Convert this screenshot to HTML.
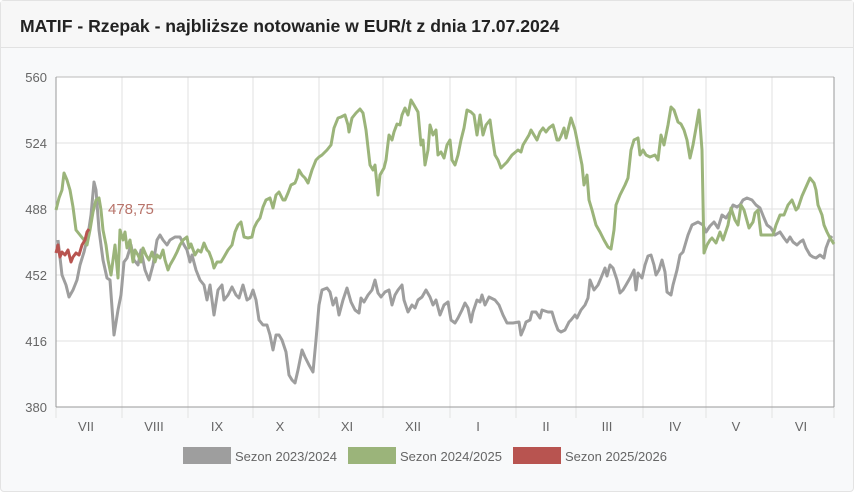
<!DOCTYPE html>
<html><head><meta charset="utf-8"><style>
html,body{margin:0;padding:0;width:854px;height:492px;overflow:hidden;background:#fff;font-family:"Liberation Sans",sans-serif}
.card{position:absolute;left:0;top:0;width:852px;height:490px;border:1px solid #e3e3e3;border-radius:4px;background:#f8f9fa}
.hdr{height:46px;border-bottom:1px solid #e2e2e2;background:#f7f7f7}
.hdr span{position:absolute;left:19px;top:15px;font-weight:bold;font-size:17.6px;color:#222}
svg{position:absolute;left:0;top:0}
</style></head><body>
<div class="card"><div class="hdr"><span>MATIF - Rzepak - najbliższe notowanie w EUR/t z dnia 17.07.2024</span></div></div>
<svg width="854" height="492" font-family="Liberation Sans, sans-serif">
<rect x="56" y="77" width="778" height="330" fill="#fff"/>
<g stroke="#e2e2e2" stroke-width="1">
<line x1="56" y1="143" x2="834" y2="143"/><line x1="56" y1="209" x2="834" y2="209"/><line x1="56" y1="275" x2="834" y2="275"/><line x1="56" y1="341" x2="834" y2="341"/>
<line x1="122" y1="77" x2="122" y2="407"/><line x1="188" y1="77" x2="188" y2="407"/><line x1="253" y1="77" x2="253" y2="407"/><line x1="319" y1="77" x2="319" y2="407"/><line x1="383" y1="77" x2="383" y2="407"/><line x1="450" y1="77" x2="450" y2="407"/><line x1="516" y1="77" x2="516" y2="407"/><line x1="576" y1="77" x2="576" y2="407"/><line x1="643" y1="77" x2="643" y2="407"/><line x1="706" y1="77" x2="706" y2="407"/><line x1="772" y1="77" x2="772" y2="407"/>
</g>
<g stroke="#e2e2e2"><line x1="56" y1="407" x2="56" y2="418"/><line x1="122" y1="407" x2="122" y2="418"/><line x1="188" y1="407" x2="188" y2="418"/><line x1="253" y1="407" x2="253" y2="418"/><line x1="319" y1="407" x2="319" y2="418"/><line x1="383" y1="407" x2="383" y2="418"/><line x1="450" y1="407" x2="450" y2="418"/><line x1="516" y1="407" x2="516" y2="418"/><line x1="576" y1="407" x2="576" y2="418"/><line x1="643" y1="407" x2="643" y2="418"/><line x1="706" y1="407" x2="706" y2="418"/><line x1="772" y1="407" x2="772" y2="418"/><line x1="834" y1="407" x2="834" y2="418"/></g>
<line x1="56" y1="77" x2="834" y2="77" stroke="#bbb"/>
<line x1="56" y1="77" x2="56" y2="407" stroke="#999"/>
<line x1="834" y1="77" x2="834" y2="407" stroke="#999"/>
<line x1="56" y1="407" x2="834" y2="407" stroke="#999"/>
<g font-size="13" fill="#666" text-anchor="end">
<text x="47" y="82">560</text><text x="47" y="148">524</text><text x="47" y="214">488</text><text x="47" y="280">452</text><text x="47" y="346">416</text><text x="47" y="412">380</text></g>
<g font-size="13" fill="#666" text-anchor="middle">
<text x="86" y="431">VII</text><text x="154" y="431">VIII</text><text x="217" y="431">IX</text><text x="280" y="431">X</text><text x="347" y="431">XI</text><text x="413" y="431">XII</text><text x="478" y="431">I</text><text x="546" y="431">II</text><text x="607" y="431">III</text><text x="675" y="431">IV</text><text x="736" y="431">V</text><text x="801" y="431">VI</text></g>
<g fill="none" stroke-width="3" stroke-linejoin="round">
<polyline stroke="#9e9e9e" points="58,240 62,275 66,285 69,297 73,290 77,280 80,265 84,252 88,235 91,215 94,182 96,190 99,230 103,260 107,278 110,280 114,335 118,310 121,295 124,262 127,258 131,245 134,260 138,265 141,250 145,270 149,280 153,265 157,240 160,235 163,240 167,245 170,240 175,237 180,237 184,245 187,250 190,262 192,255 196,270 200,280 204,285 207,300 210,285 214,315 218,290 222,285 224,300 228,295 232,287 236,295 239,298 243,285 247,300 250,298 253,290 256,300 259,320 263,325 267,325 270,335 273,350 276,335 279,335 282,340 286,352 289,375 292,380 295,383 298,370 302,350 305,357 309,365 313,372 316,340 319,305 322,290 327,288 330,292 333,305 336,298 339,315 343,300 347,288 351,302 355,310 359,313 361,298 364,302 368,295 372,290 375,280 378,293 381,297 385,292 389,290 392,305 395,295 398,290 402,285 404,300 408,312 412,305 415,308 418,300 422,297 426,290 430,297 433,305 436,300 440,315 444,305 448,302 451,320 455,323 458,318 462,310 465,303 468,308 471,322 473,312 477,300 480,302 482,295 485,305 489,297 495,300 499,305 503,315 507,323 513,323 519,322 521,335 524,328 526,322 530,320 532,312 536,312 540,318 542,310 548,312 552,312 555,322 558,330 561,332 565,330 569,322 571,320 575,315 577,318 581,310 585,305 588,298 590,280 594,290 598,285 601,278 605,268 607,276 610,265 613,268 617,280 620,293 623,290 626,285 630,278 634,270 636,290 638,273 642,278 645,265 648,256 651,255 654,265 656,275 659,270 662,260 665,272 667,292 671,295 673,285 677,270 680,255 683,252 688,235 692,225 698,222 703,225 706,232 710,226 714,222 718,228 722,215 726,218 730,212 733,205 737,207 740,205 743,200 747,198 752,200 756,205 760,208 764,218 767,225 771,228 775,235 780,232 784,238 787,242 790,237 793,242 797,245 800,242 803,240 806,248 810,255 813,257 816,258 820,255 824,258 826,248 829,240 832,236"/>
<polyline stroke="#9bb47a" points="56,210 59,198 62,190 64,173 67,180 70,190 73,207 76,230 80,235 84,240 87,245 90,230 93,212 96,200 99,198 101,210 103,230 106,245 108,260 111,275 113,260 115,245 118,278 120,230 123,240 125,232 127,248 130,240 133,262 135,250 138,255 141,262 143,248 146,255 149,260 152,252 155,262 157,255 160,258 163,250 165,260 168,270 170,265 174,258 177,252 180,245 183,240 187,237 189,248 191,244 195,255 198,250 201,252 204,243 207,250 209,252 212,260 214,268 217,262 221,262 224,257 228,250 232,245 235,232 238,225 241,222 244,237 248,238 252,237 254,228 257,222 260,218 263,207 266,200 270,198 273,208 276,195 279,192 283,200 285,200 288,193 291,185 295,183 297,178 299,170 302,175 305,178 308,183 312,170 316,160 319,157 322,155 327,150 331,145 334,128 338,118 341,117 345,115 348,125 349,132 352,118 356,113 360,109 363,113 366,130 370,165 373,170 375,165 378,195 380,175 384,168 386,160 389,135 392,140 394,132 397,124 400,125 402,115 405,108 408,115 411,100 414,105 418,112 421,145 423,140 425,165 428,150 430,125 433,135 436,130 438,155 441,152 444,158 447,145 450,140 452,160 455,165 458,155 461,140 464,128 467,110 471,112 474,115 477,135 480,115 483,135 486,125 490,120 492,135 495,155 498,160 501,168 504,165 507,162 512,155 518,150 521,152 523,145 526,140 529,135 531,130 534,135 537,140 540,132 543,128 546,132 549,128 553,125 555,132 557,140 559,140 561,136 564,128 566,138 568,130 571,118 575,130 578,145 580,155 582,165 584,185 587,175 589,200 592,210 596,225 600,232 604,240 608,247 611,249 614,230 616,205 620,195 625,185 628,178 631,150 634,140 638,138 640,155 643,150 646,155 650,157 655,155 658,160 661,135 664,145 668,125 671,107 674,110 678,122 681,124 684,130 687,140 690,158 693,145 696,128 699,110 702,150 704,253 707,245 710,240 712,238 716,243 720,232 723,240 728,225 731,208 735,220 738,225 741,205 744,210 749,228 753,222 755,213 758,210 761,235 765,235 769,235 773,235 776,225 780,215 784,215 788,205 792,200 796,210 798,208 802,196 806,187 810,178 814,183 816,190 818,205 822,215 824,225 827,232 830,238 834,244"/>
<polyline stroke="#b85450" points="56,253 58,245 60,257 62,252 65,255 68,250 71,262 73,257 76,253 79,255 82,245 85,240 87,232 89,229"/>
</g>
<text x="108" y="214" font-size="15" fill="#b8746b">478,75</text>
<rect x="183" y="447" width="48" height="17" fill="#9e9e9e"/>
<text x="235" y="461" font-size="13" fill="#666">Sezon 2023/2024</text>
<rect x="348" y="447" width="48" height="17" fill="#9bb47a"/>
<text x="400" y="461" font-size="13" fill="#666">Sezon 2024/2025</text>
<rect x="513" y="447" width="48" height="17" fill="#b85450"/>
<text x="565" y="461" font-size="13" fill="#666">Sezon 2025/2026</text>
</svg>
</body></html>
